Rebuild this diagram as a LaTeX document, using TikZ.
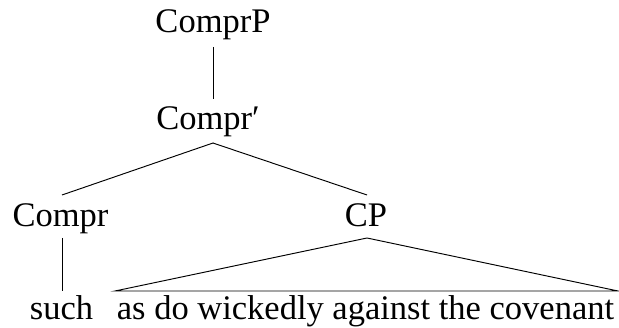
\documentclass[tikz,border=0pt]{standalone}
\usepackage{fontspec}
\setmainfont{Liberation Serif}
\begin{document}
\begin{tikzpicture}[x=1pt,y=-1pt,
  lab/.style={anchor=base, inner sep=0pt, font=\fontsize{34.5}{41}\selectfont},
  branch/.style={draw=black, line width=0.95pt}]
\useasboundingbox (0,0) rectangle (619,328);
\node[lab] (cp0) at (213,33) {ComprP};
\node[lab] (cbar) at (208,130) {Compr′};
\node[lab] (c) at (60.5,227) {Compr};
\node[lab] (cp) at (366,227) {CP};
\node[lab] (such) at (61.5,320) {such};
\node[lab] (phr) at (365.5,320) {as do wickedly against the covenant};
\draw[branch] ([yshift=-14pt]cp0.base) -- ([xshift=5pt,yshift=31pt]cbar.base);
\draw[branch] ([xshift=1.5pt,yshift=32pt]c.base) -- ([xshift=5pt,yshift=-13pt]cbar.base) -- ([xshift=1pt,yshift=32pt]cp.base);
\draw[branch] ([xshift=1.5pt,yshift=-11pt]c.base) -- ([xshift=0.5pt,yshift=29pt]such.base);
\draw[branch] ([xshift=1pt,yshift=-11pt]cp.base) -- ([xshift=-250.5pt,yshift=29pt]phr.base) -- ([xshift=252.5pt,yshift=29pt]phr.base) -- cycle;
\end{tikzpicture}
\end{document}
